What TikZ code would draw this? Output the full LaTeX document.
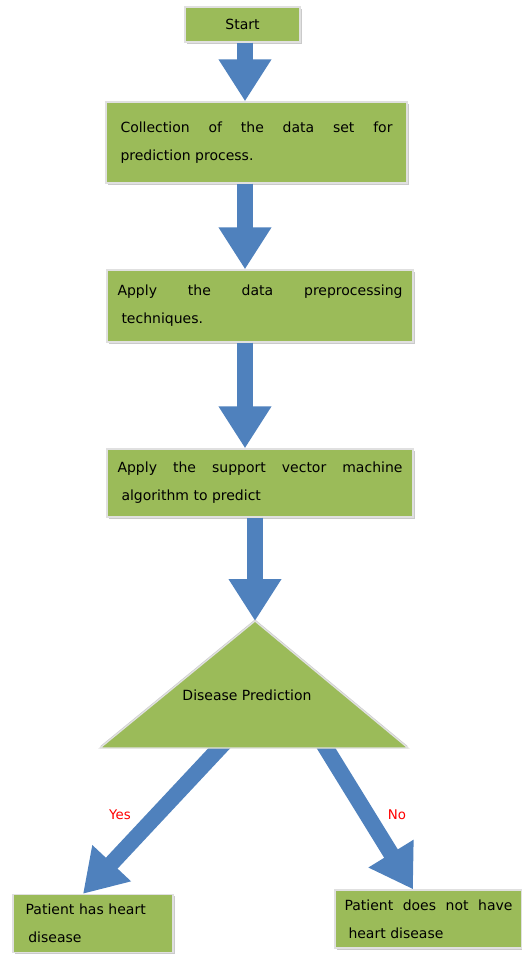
\documentclass[tikz,border=0pt]{standalone}
\usepackage{fontspec}
\setmainfont{DejaVu Sans}
\usetikzlibrary{arrows.meta,shadows}

\definecolor{boxgreen}{RGB}{155,187,89}
\definecolor{arrowblue}{RGB}{79,129,189}

\tikzset{
  stepbox/.style={draw=black!12, line width=1pt, fill=boxgreen, inner sep=0pt,
    font=\fontsize{10.5}{21}\selectfont,
    drop shadow={shadow xshift=1.2pt, shadow yshift=-1.2pt, fill=black!35, opacity=0.6}},
  flowarrow/.style={draw=arrowblue, line width=12pt, -{Triangle[width=37.5pt,length=31.5pt]}},
  answer/.style={text=red, font=\fontsize{10}{12}\selectfont}
}

\begin{document}
\begin{tikzpicture}[x=0.75pt,y=0.75pt,yscale=-1,xscale=1]
\useasboundingbox (0,0) rectangle (521,955);
%Boxes
\node[stepbox, minimum width=86.25pt, minimum height=26.25pt] (start) at (242.5,24.5) {Start};
\node[stepbox, minimum width=225.75pt, minimum height=60.75pt, text width=204pt, align=justify] (collect) at (256.5,142.5)
  {Collection\hfill of\hfill the\hfill data\hfill set\hfill for\\prediction process.};
\node[stepbox, minimum width=229.5pt, minimum height=54pt, text width=213.75pt, align=justify] (preproc) at (260,306)
  {Apply\hfill the\hfill data\hfill preprocessing\\\hspace*{3pt}techniques.};
\node[stepbox, minimum width=229.5pt, minimum height=51pt, text width=213.75pt, align=justify] (svm) at (260,483)
  {Apply\hfill the\hfill support\hfill vector\hfill machine\\\hspace*{3pt}algorithm to predict};
\node[stepbox, minimum width=120pt, minimum height=43.5pt, text width=101pt, align=left] (patyes) at (93,923.5)
  {Patient has heart\\\hspace*{2pt}disease};
\node[stepbox, minimum width=140.25pt, minimum height=43.5pt, text width=126pt, align=justify] (patno) at (428.5,919)
  {Patient\hfill does\hfill not\hfill have\\\hspace*{3pt}heart disease};
%Arrows
\coordinate (spine) at (245,0);
\coordinate (spinelow) at (255,0);
\draw[flowarrow] (spine |- start.south) -- (spine |- collect.north);
\draw[flowarrow] (spine |- collect.south) -- (spine |- preproc.north);
\draw[flowarrow] (spine |- preproc.south) -- (spine |- svm.north);
%Decision
\coordinate (apex) at (255,621);
\coordinate (baseleft) at (100,748);
\coordinate (baseright) at (408,748);
\coordinate (yesfoot) at (227,740);
\coordinate (nofoot) at (321,740);
\draw[flowarrow] (spinelow |- svm.south) -- (apex);
\draw[flowarrow] (yesfoot) -- ([xshift=-7.5pt]patyes.north);
\draw[flowarrow] (nofoot) -- ([xshift=-11.6pt]patno.north);
\filldraw[fill=boxgreen, draw=black!12, line width=1pt,
  drop shadow={shadow xshift=0pt, shadow yshift=1.2pt, fill=black!35, opacity=0.6}]
  (apex) -- (baseright) -- (baseleft) -- cycle;
\node[font=\fontsize{10.5}{12}\selectfont] (decide) at (247,695) {Disease Prediction};
\node[answer] (yes) at (120,815) {Yes};
\node[answer] (no) at (397,815) {No};
\end{tikzpicture}
\end{document}
